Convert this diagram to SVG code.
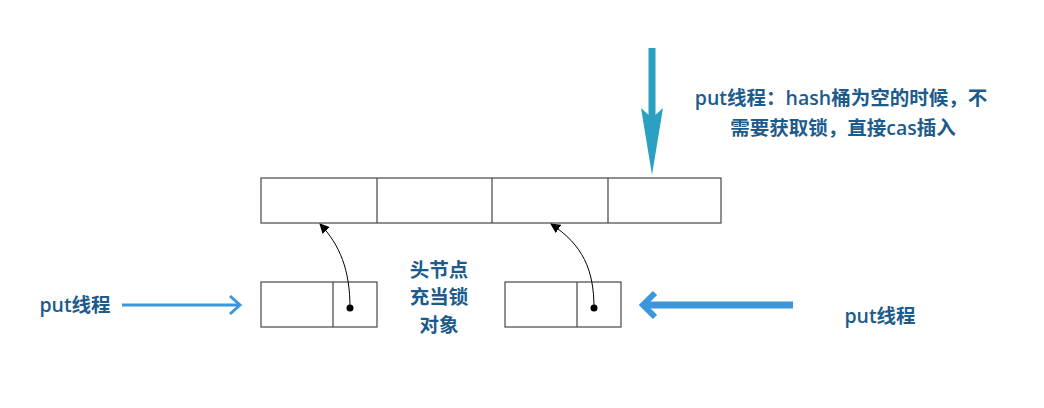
<svg xmlns="http://www.w3.org/2000/svg" width="1044" height="408" viewBox="0 0 1044 408">
<style>
.b{fill:#fff;stroke:#555;stroke-width:1.3}
.t{font-family:"Open Sans","Noto Sans CJK SC",sans-serif;font-size:19.5px;font-weight:600;fill:#1c5b8c}
.l{stroke:#444;stroke-width:1.2}
</style>
<defs>
<marker id="ah" markerWidth="10" markerHeight="10" refX="9" refY="5" orient="auto" markerUnits="userSpaceOnUse"><path d="M0,0 L10,5 L0,10 Z" fill="#000"/></marker>
</defs>
<rect width="1044" height="408" fill="#fff"/>
<g id="array">
<rect class="b" x="261" y="178" width="460" height="45"/>
<line class="l" x1="377" y1="178" x2="377" y2="223"/>
<line class="l" x1="492" y1="178" x2="492" y2="223"/>
<line class="l" x1="608" y1="178" x2="608" y2="223"/>
</g>
<g id="node1">
<rect class="b" x="261" y="282" width="116" height="45"/>
<line class="l" x1="333" y1="282" x2="333" y2="327"/>
<circle cx="350" cy="308" r="3.5" fill="#000"/>
</g>
<g id="node2">
<rect class="b" x="505" y="282" width="116" height="45"/>
<line class="l" x1="577" y1="282" x2="577" y2="327"/>
<circle cx="594" cy="308" r="3.5" fill="#000"/>
</g>
<g id="connectors" fill="none">
<path d="M350,308 C350,270 340,245 320,224" stroke="#000" stroke-width="1" marker-end="url(#ah)"/>
<path d="M594,308 C594,270 583,245 551,224" stroke="#000" stroke-width="1" marker-end="url(#ah)"/>
<line x1="652" y1="48" x2="652" y2="150" stroke="#2aa1c0" stroke-width="7"/>
<path d="M641,108 L652,118 L663,108 L652,175 Z" fill="#2aa1c0"/>
<line x1="122" y1="305" x2="238" y2="305" stroke="#3a97db" stroke-width="3"/>
<path d="M230,296 L240,305 L230,314" stroke="#3a97db" stroke-width="3"/>
<line x1="793" y1="305" x2="646" y2="305" stroke="#3a97db" stroke-width="7"/>
<path d="M655,293 L643,305 L655,317" stroke="#3a97db" stroke-width="6"/>
</g>
<g id="labels">
<text class="t" x="75" y="312" text-anchor="middle">put线程</text>
<text class="t" x="880" y="323" text-anchor="middle">put线程</text>
<text class="t" x="841" y="105" text-anchor="middle">put线程：hash桶为空的时候，不</text>
<text class="t" x="843" y="135" text-anchor="middle">需要获取锁，直接cas插入</text>
<text class="t" x="439" y="277" text-anchor="middle">头节点</text>
<text class="t" x="439" y="304" text-anchor="middle">充当锁</text>
<text class="t" x="439" y="332" text-anchor="middle">对象</text>
</g>
</svg>
